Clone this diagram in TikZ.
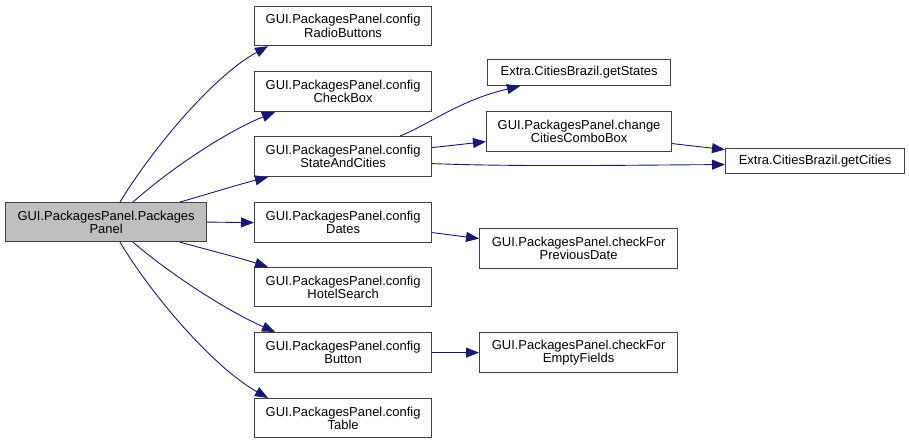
\documentclass[tikz,border=0pt]{standalone}
\usepackage{fontspec}
\setmainfont{Liberation Sans}
\usetikzlibrary{arrows.meta,calc}
\definecolor{edgec}{HTML}{191970}
\definecolor{boxc}{HTML}{404040}
\definecolor{rootfill}{HTML}{BFBFBF}
\tikzset{
  fn/.style={draw=boxc, line width=1.2bp, fill=white, font=\fontsize{13}{13.5}\selectfont,
    align=center, inner sep=0pt, anchor=north west},
  call/.style={draw=edgec, line width=0.9bp, -{Triangle[length=13bp,width=10bp]}, edgec},
}
\begin{document}
\begin{tikzpicture}[x=1bp,y=-1bp]
\useasboundingbox (0,0) rectangle (909,444);
% nodes
\node[fn, fill=rootfill, minimum width=201bp, minimum height=39bp] (root) at (5,202) {GUI.PackagesPanel.Packages\\Panel};
\node[fn, minimum width=177bp, minimum height=39bp] (rb) at (254,6) {GUI.PackagesPanel.config\\RadioButtons};
\node[fn, minimum width=177bp, minimum height=40bp] (cb) at (254,71) {GUI.PackagesPanel.config\\CheckBox};
\node[fn, minimum width=177bp, minimum height=40bp] (sc) at (254,136) {GUI.PackagesPanel.config\\StateAndCities};
\node[fn, minimum width=177bp, minimum height=40bp] (dt) at (254,202) {GUI.PackagesPanel.config\\Dates};
\node[fn, minimum width=177bp, minimum height=39bp] (hs) at (254,267) {GUI.PackagesPanel.config\\HotelSearch};
\node[fn, minimum width=177bp, minimum height=40bp] (bt) at (254,332) {GUI.PackagesPanel.config\\Button};
\node[fn, minimum width=177bp, minimum height=39bp] (tb) at (254,398) {GUI.PackagesPanel.config\\Table};
\node[fn, minimum width=183bp, minimum height=26bp] (gs) at (487,59) {Extra.CitiesBrazil.getStates};
\node[fn, minimum width=185bp, minimum height=40bp] (cc) at (486,111) {GUI.PackagesPanel.change\\CitiesComboBox};
\node[fn, minimum width=179bp, minimum height=25bp] (gc) at (725,148) {Extra.CitiesBrazil.getCities};
\node[fn, minimum width=198bp, minimum height=40bp] (pd) at (479,228) {GUI.PackagesPanel.checkFor\\PreviousDate};
\node[fn, minimum width=198bp, minimum height=40bp] (ef) at (479,332) {GUI.PackagesPanel.checkFor\\EmptyFields};
% edges from root
\draw[call] ($(root.north west)+(115,0)$) .. controls (155,145) and (215,75) .. ($(rb.south west)+(14,0)$);
\draw[call] ($(root.north west)+(128,0)$) .. controls (175,165) and (230,130) .. ($(cb.south west)+(21,0)$);
\draw[call] ($(root.north west)+(175,0)$) .. controls (205,195) and (240,184) .. ($(sc.south west)+(14,0)$);
\draw[call] (root.east) -- (dt.west);
\draw[call] ($(root.south west)+(175,0)$) .. controls (205,249) and (240,258) .. ($(hs.north west)+(14,0)$);
\draw[call] ($(root.south west)+(128,0)$) .. controls (175,278) and (230,312) .. ($(bt.north west)+(21,0)$);
\draw[call] ($(root.south west)+(115,0)$) .. controls (155,300) and (215,368) .. ($(tb.north west)+(14,0)$);
% second level
\draw[call] ($(sc.north west)+(146,0)$) .. controls (430,124) and (460,100) .. ($(gs.south west)+(33,0)$);
\draw[call] ($(sc.east)+(0,-9)$) -- ($(cc.west)+(0,10)$);
\draw[call] ($(sc.east)+(0,7)$) .. controls (520,167) and (640,165) .. ($(gc.west)+(0,3.5)$);
\draw[call] ($(cc.east)+(0,12)$) -- ($(gc.west)+(0,-11.5)$);
\draw[call] ($(dt.east)+(0,10)$) -- ($(pd.west)+(0,-10)$);
\draw[call] (bt.east) -- (ef.west);
\end{tikzpicture}
\end{document}
